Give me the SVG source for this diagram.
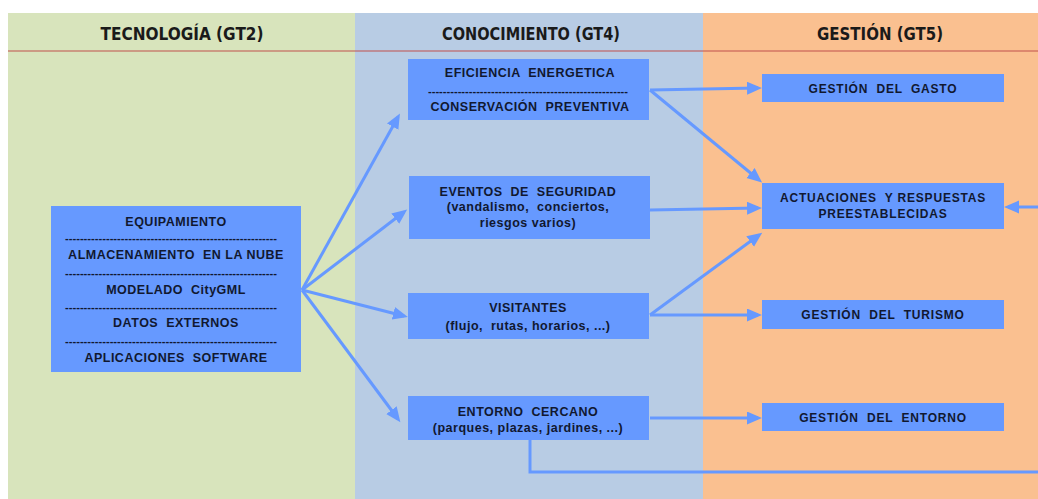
<svg xmlns="http://www.w3.org/2000/svg" width="1038" height="499" viewBox="0 0 1038 499">
<defs>
<style>
.hd{font-family:"DejaVu Sans Condensed","DejaVu Sans",sans-serif;font-weight:bold;font-size:18px;fill:#1a1a1a;text-anchor:middle;dominant-baseline:central}
.nb{fill:#6699FF}
.t{font-family:"Liberation Sans",Arial,sans-serif;font-weight:bold;font-size:12px;fill:#111830;text-anchor:middle;dominant-baseline:central;letter-spacing:0.8px;white-space:pre}
.ts{font-family:"Liberation Sans",Arial,sans-serif;font-weight:bold;font-size:12.5px;fill:#111830;text-anchor:middle;dominant-baseline:central;letter-spacing:0.5px;white-space:pre}
.d{font-family:"Liberation Sans",Arial,sans-serif;font-size:11px;font-weight:bold;fill:#111830;dominant-baseline:central}
.c{fill:none;stroke:#6699FF;stroke-width:3}
</style>
<marker id="ah" markerUnits="userSpaceOnUse" markerWidth="16" markerHeight="14" refX="11" refY="6.5" orient="auto">
<path d="M0,0 L15,6.5 L0,13 z" fill="#6699FF"/>
</marker>
</defs>
<rect width="1038" height="499" fill="#fff"/>
<rect x="8" y="13" width="347" height="486" fill="#D8E4BC"/>
<rect x="355" y="13" width="348" height="486" fill="#B8CCE4"/>
<rect x="703" y="13" width="335" height="486" fill="#FAC090"/>
<line x1="8" y1="51" x2="1038" y2="51" stroke="#C0504D" stroke-width="1"/>
<text class="hd" x="182" y="33" textLength="163" lengthAdjust="spacingAndGlyphs">TECNOLOGÍA (GT2)</text>
<text class="hd" x="531" y="33" textLength="178" lengthAdjust="spacingAndGlyphs">CONOCIMIENTO (GT4)</text>
<text class="hd" x="880" y="33" textLength="126" lengthAdjust="spacingAndGlyphs">GESTIÓN (GT5)</text>

<g id="connectors">
<line class="c" x1="302" y1="290" x2="398" y2="117" marker-end="url(#ah)"/>
<line class="c" x1="302" y1="290" x2="404" y2="212" marker-end="url(#ah)"/>
<line class="c" x1="302" y1="290" x2="404" y2="316" marker-end="url(#ah)"/>
<line class="c" x1="302" y1="290" x2="398" y2="419" marker-end="url(#ah)"/>
<line class="c" x1="650" y1="90" x2="758" y2="88" marker-end="url(#ah)"/>
<line class="c" x1="650" y1="90" x2="759" y2="180" marker-end="url(#ah)"/>
<line class="c" x1="650" y1="210" x2="758" y2="208" marker-end="url(#ah)"/>
<line class="c" x1="650" y1="315" x2="759" y2="235" marker-end="url(#ah)"/>
<line class="c" x1="650" y1="315" x2="758" y2="315" marker-end="url(#ah)"/>
<line class="c" x1="650" y1="418" x2="758" y2="418" marker-end="url(#ah)"/>
<line class="c" x1="1038" y1="207" x2="1008" y2="207" marker-end="url(#ah)"/>
<polyline class="c" points="530,440 530,472 1038,472"/>
</g>

<g id="n-equipamiento">
<rect class="nb" x="51" y="206" width="250" height="166"/>
<text class="ts" x="176" y="222">EQUIPAMIENTO</text>
<text class="d" x="65" y="238" textLength="212" lengthAdjust="spacingAndGlyphs">---------------------------------------------------------</text>
<text class="ts" x="176" y="255">ALMACENAMIENTO  EN LA NUBE</text>
<text class="d" x="65" y="273" textLength="212" lengthAdjust="spacingAndGlyphs">---------------------------------------------------------</text>
<text class="ts" x="176" y="290">MODELADO  CityGML</text>
<text class="d" x="65" y="307" textLength="212" lengthAdjust="spacingAndGlyphs">---------------------------------------------------------</text>
<text class="ts" x="176" y="323">DATOS  EXTERNOS</text>
<text class="d" x="65" y="341" textLength="212" lengthAdjust="spacingAndGlyphs">---------------------------------------------------------</text>
<text class="ts" x="176" y="358">APLICACIONES  SOFTWARE</text>
</g>

<g id="n-eficiencia">
<rect class="nb" x="408" y="59" width="241" height="61"/>
<text class="ts" x="530" y="73">EFICIENCIA  ENERGETICA</text>
<text class="d" x="428" y="91" textLength="200" lengthAdjust="spacingAndGlyphs">------------------------------------------------------</text>
<text class="ts" x="530" y="107">CONSERVACIÓN  PREVENTIVA</text>
</g>

<g id="n-eventos">
<rect class="nb" x="409" y="176" width="241" height="63"/>
<text class="ts" x="528" y="192">EVENTOS  DE  SEGURIDAD</text>
<text class="ts" x="528" y="207">(vandalismo,  conciertos,</text>
<text class="ts" x="528" y="223">riesgos varios)</text>
</g>

<g id="n-visitantes">
<rect class="nb" x="408" y="293" width="241" height="46"/>
<text class="ts" x="528" y="308">VISITANTES</text>
<text class="ts" x="528" y="326">(flujo,  rutas, horarios, ...)</text>
</g>

<g id="n-entorno-cercano">
<rect class="nb" x="408" y="396" width="241" height="44"/>
<text class="ts" x="528" y="412">ENTORNO  CERCANO</text>
<text class="ts" x="528" y="428">(parques, plazas, jardines, ...)</text>
</g>

<g id="n-gasto">
<rect class="nb" x="762" y="74" width="242" height="28"/>
<text class="t" x="883" y="89">GESTIÓN  DEL  GASTO</text>
</g>

<g id="n-actuaciones">
<rect class="nb" x="762" y="183" width="242" height="46"/>
<text class="t" x="883" y="198">ACTUACIONES  Y RESPUESTAS</text>
<text class="t" x="883" y="214">PREESTABLECIDAS</text>
</g>

<g id="n-turismo">
<rect class="nb" x="762" y="300" width="242" height="29"/>
<text class="t" x="883" y="315">GESTIÓN  DEL  TURISMO</text>
</g>

<g id="n-entorno">
<rect class="nb" x="762" y="403" width="242" height="28"/>
<text class="t" x="883" y="418">GESTIÓN  DEL  ENTORNO</text>
</g>
</svg>
